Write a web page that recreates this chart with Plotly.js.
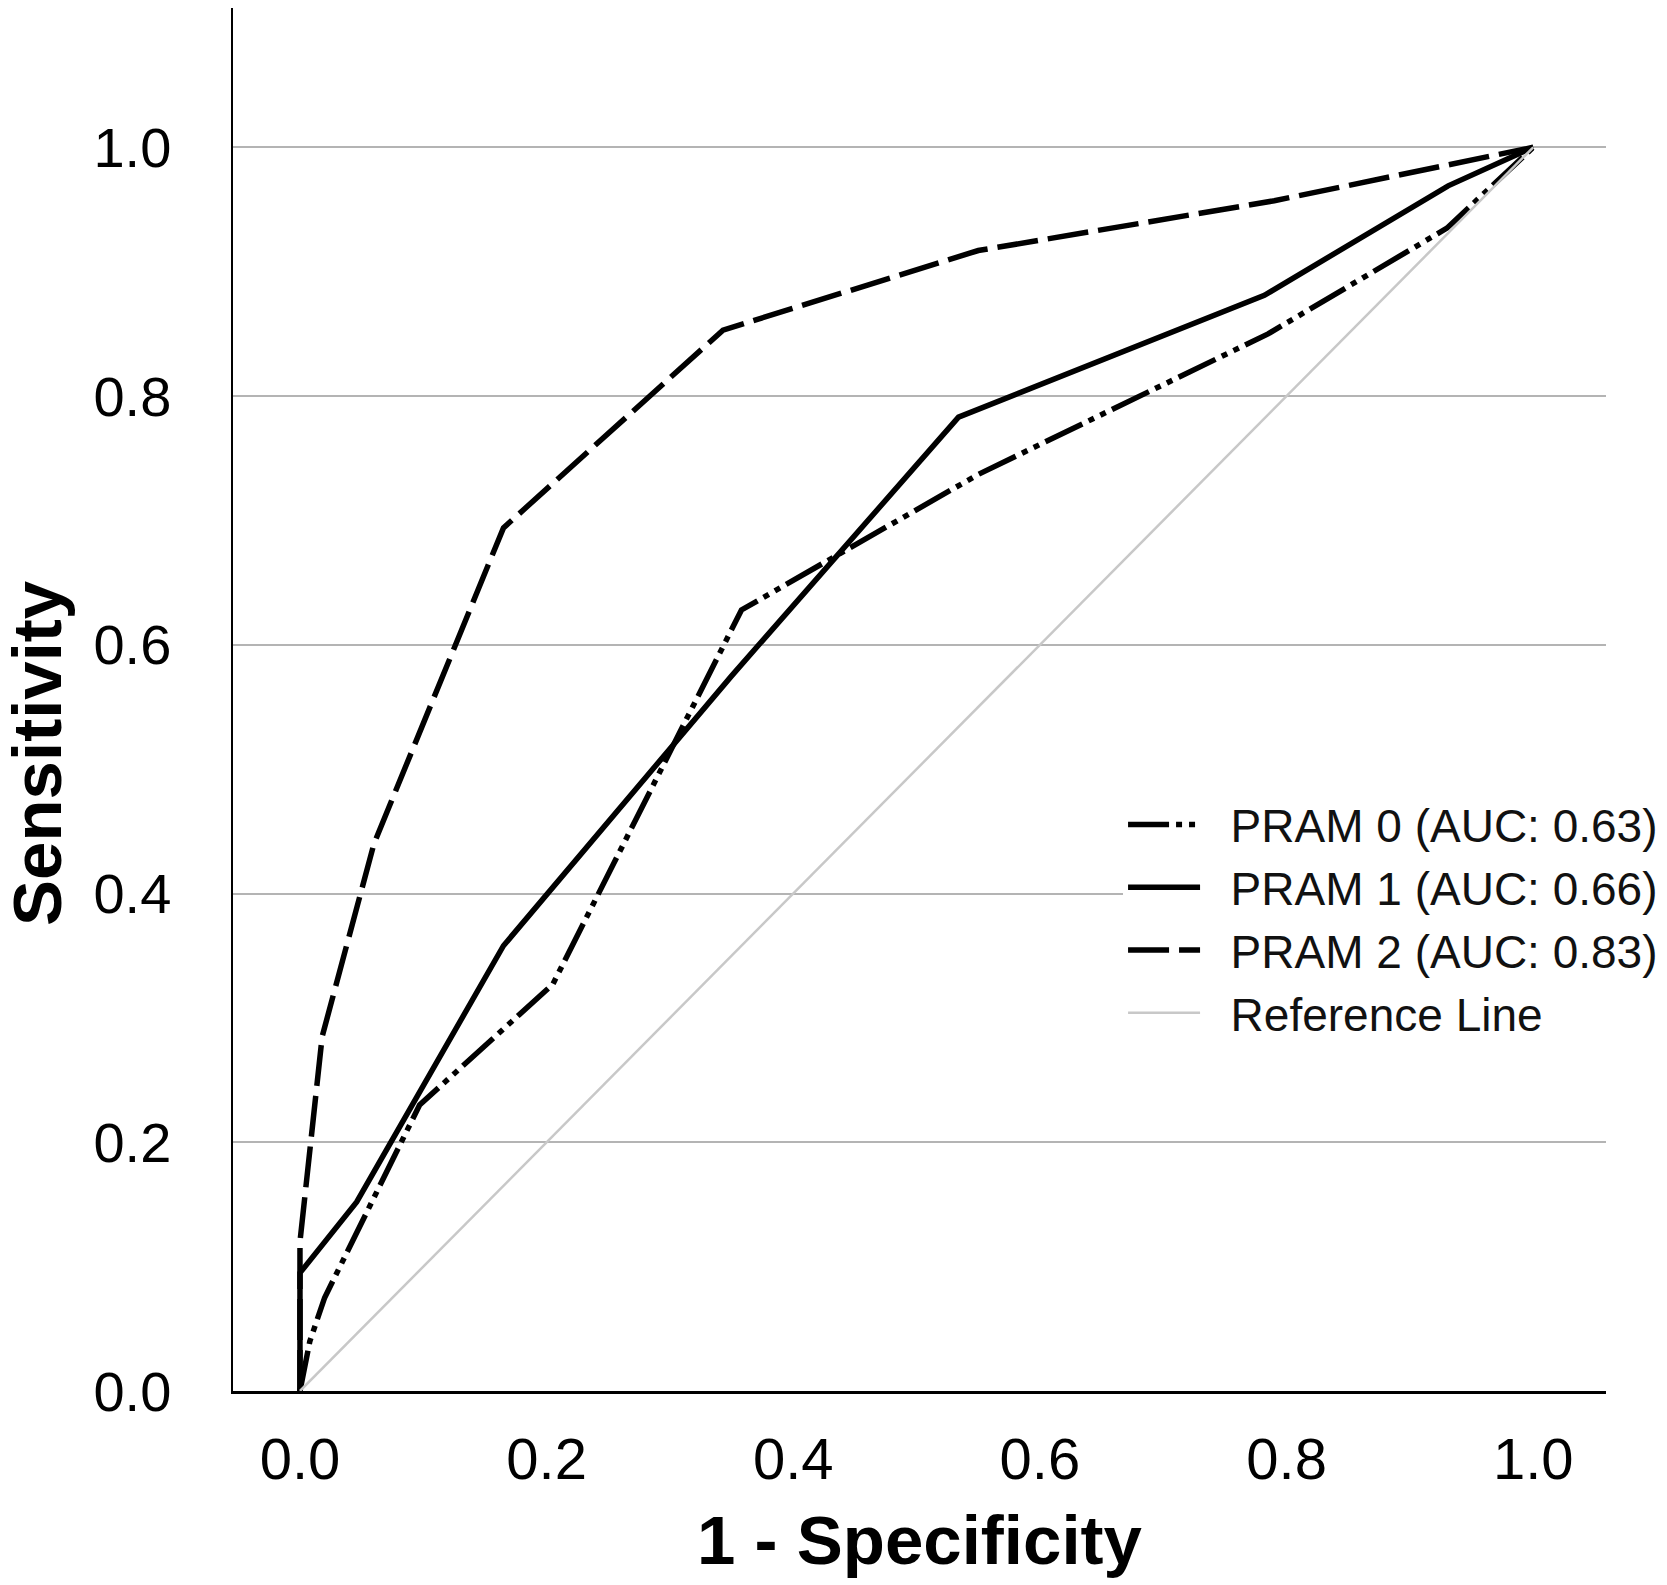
<!DOCTYPE html>
<html>
<head>
<meta charset="utf-8">
<script src="https://cdn.plot.ly/plotly-3.0.1.min.js"></script>
<style>html,body{margin:0;padding:0;background:#fff;}#chart{width:1667px;height:1585px;}</style>
</head>
<body>
<div id="chart"></div>
<script>
// ROC curve data (1 - Specificity, Sensitivity)
const seriesNames = ["PRAM 0 (AUC: 0.63)", "PRAM 1 (AUC: 0.66)", "PRAM 2 (AUC: 0.83)", "Reference Line"];
const fpr0 = [0, 0.008, 0.02, 0.097, 0.205, 0.358, 0.55, 0.785, 0.93, 1];
const tpr0 = [0, 0.04, 0.075, 0.23, 0.327, 0.628, 0.737, 0.85, 0.935, 1];
const fpr1 = [0, 0, 0.046, 0.165, 0.35, 0.534, 0.782, 0.931, 1];
const tpr1 = [0, 0.095, 0.152, 0.358, 0.575, 0.783, 0.881, 0.969, 1];
const fpr2 = [0, 0, 0.018, 0.06, 0.165, 0.343, 0.55, 0.79, 1];
const tpr2 = [0, 0.12, 0.285, 0.44, 0.694, 0.853, 0.917, 0.957, 1];
const fprRef = [0, 1];
const tprRef = [0, 1];
const tickVals = [0, 0.2, 0.4, 0.6, 0.8, 1.0];
const tickText = ["0.0", "0.2", "0.4", "0.6", "0.8", "1.0"];

const FONT = "Liberation Sans, Arial, sans-serif";
const GAP = "\u00a0\u00a0"; // space between legend sample and label

const traces = [
  {x: fpr0, y: tpr0, name: GAP + seriesNames[0], mode: "lines",
   line: {color: "#000", width: 5.5, dash: "41px,7px,6px,7px,6px,7px"}},
  {x: fpr1, y: tpr1, name: GAP + seriesNames[1], mode: "lines",
   line: {color: "#000", width: 5.5}},
  {x: fpr2, y: tpr2, name: GAP + seriesNames[2], mode: "lines",
   line: {color: "#000", width: 5.5, dash: "41px,10px"}},
  {x: fprRef, y: tprRef, name: GAP + seriesNames[3], mode: "lines",
   line: {color: "#c8c8c8", width: 2.5}}
];

const layout = {
  width: 1667, height: 1585,
  paper_bgcolor: "#fff", plot_bgcolor: "#fff",
  margin: {l: 233, r: 61, t: 8, b: 194, autoexpand: false},
  showlegend: true,
  font: {family: FONT, color: "#000"},
  xaxis: {
    range: [-0.0543, 1.059],
    tickvals: tickVals, ticktext: tickText,
    tickfont: {size: 58, family: FONT, color: "#000"},
    ticks: "", ticklabelstandoff: 15,
    showgrid: false, zeroline: false,
    showline: true, linecolor: "#000", linewidth: 3,
    title: {text: "1 - Specificity", font: {size: 69, family: FONT, weight: "bold", color: "#000"}, standoff: 27},
    fixedrange: true
  },
  yaxis: {
    range: [0, 1.112],
    tickvals: tickVals, ticktext: tickText,
    tickfont: {size: 56, family: FONT, color: "#000"},
    ticks: "", ticklabelstandoff: 48,
    showgrid: true, gridcolor: "#b4b4b4", gridwidth: 2,
    zeroline: false,
    showline: true, linecolor: "#000", linewidth: 2.5,
    fixedrange: true
  },
  legend: {
    xref: "container", yref: "container",
    x: 0.6737, xanchor: "left", y: 0.5028, yanchor: "top",
    bgcolor: "#fff", borderwidth: 0,
    font: {size: 46, family: FONT, color: "#111"},
    itemwidth: 72, tracegroupgap: 0, traceorder: "normal"
  },
  annotations: [{
    text: "<b>Sensitivity</b>", xref: "paper", yref: "paper",
    x: -0.1424, y: 0.461, xanchor: "center", yanchor: "middle",
    textangle: -90, showarrow: false,
    font: {size: 69, family: FONT, color: "#000"}
  }]
};

Plotly.newPlot("chart", traces, layout, {displayModeBar: false, staticPlot: true});
</script>
</body>
</html>
